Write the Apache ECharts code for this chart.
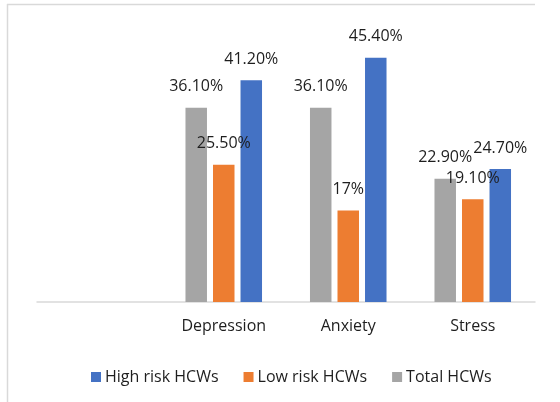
<!DOCTYPE html>
<html>
<head>
<meta charset="utf-8">
<style>
  html, body { margin: 0; padding: 0; background: #fff; }
  #chart { width: 560px; height: 402px; }
</style>
<script src="https://cdn.jsdelivr.net/npm/echarts@6/dist/echarts.min.js"></script>
</head>
<body>
<div id="chart"></div>
<script>
// Prevalence (%) of each outcome among healthcare workers
const categories = ['', 'Depression', 'Anxiety', 'Stress'];
const totalHCWs = [null, 36.1, 36.1, 22.9];
const lowRiskHCWs = [null, 25.5, 17, 19.1];
const highRiskHCWs = [null, 41.2, 45.4, 24.7];
const legendOrder = ['High risk HCWs', 'Low risk HCWs', 'Total HCWs'];

const FONT = 'Open Sans';
const TEXT = '#1e1e1e';

function pct(p) {
  const v = p.value;
  if (v == null) return '';
  return (Number.isInteger(v) ? String(v) : v.toFixed(2)) + '%';
}

function barSeries(name, data, color) {
  return {
    name: name,
    type: 'bar',
    data: data,
    barWidth: 21.5,
    barGap: '28%',
    itemStyle: { color: color },
    label: {
      show: true,
      position: 'top',
      distance: 13,
      formatter: pct,
      fontFamily: FONT,
      fontSize: 16,
      color: TEXT
    }
  };
}

const chart = echarts.init(document.getElementById('chart'), null, { renderer: 'canvas' });
chart.setOption({
  animation: false,
  backgroundColor: '#fff',
  textStyle: { fontFamily: FONT },
  grid: { left: 37, right: 25, top: 33, bottom: 100, containLabel: false },
  xAxis: {
    type: 'category',
    data: categories,
    axisLine: { lineStyle: { color: '#d9d9d9', width: 1.5 } },
    axisTick: { show: false },
    axisLabel: { fontFamily: FONT, fontSize: 16, color: TEXT, margin: 16, interval: 0 }
  },
  yAxis: {
    type: 'value',
    min: 0,
    max: 50,
    show: false,
    splitLine: { show: false }
  },
  legend: {
    data: legendOrder,
    left: 86,
    top: 364,
    icon: 'rect',
    itemWidth: 10,
    itemHeight: 10,
    itemGap: 25,
    textStyle: { fontFamily: FONT, fontSize: 16, color: TEXT, padding: [0, 0, 0, -1] }
  },
  series: [
    barSeries('Total HCWs', totalHCWs, '#a5a5a5'),
    barSeries('Low risk HCWs', lowRiskHCWs, '#ed7d31'),
    barSeries('High risk HCWs', highRiskHCWs, '#4472c4')
  ],
  graphic: [
    { type: 'line', shape: { x1: 7, y1: 4.5, x2: 535, y2: 4.5 }, style: { stroke: '#d9d9d9', lineWidth: 1.5 }, silent: true },
    { type: 'line', shape: { x1: 7.5, y1: 4, x2: 7.5, y2: 402 }, style: { stroke: '#d9d9d9', lineWidth: 1.5 }, silent: true }
  ]
});
</script>
</body>
</html>
